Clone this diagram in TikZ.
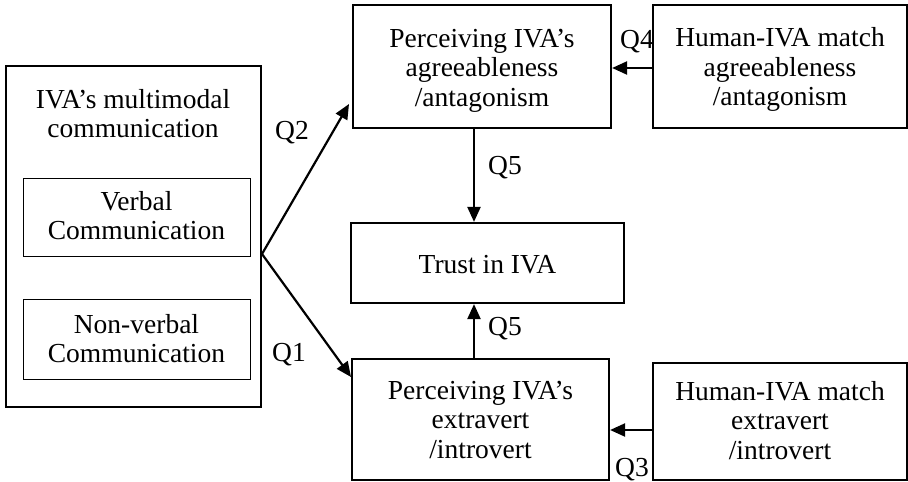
\documentclass[tikz,border=0pt]{standalone}
\usepackage{fontspec}
\setmainfont{Liberation Serif}
\usetikzlibrary{arrows.meta}
% text block whose first baseline sits #1 below the node centre
\newcommand{\mytl}[2]{\raisebox{#1}[0pt][0pt]{\begin{tabular}[t]{@{}c@{}}#2\end{tabular}}}
\begin{document}
\begin{tikzpicture}[x=1pt,y=-1pt,
  txt/.style={font=\fontsize{27.5}{29.5}\selectfont},
  box/.style={draw,line width=2.2pt,inner sep=0pt,txt},
  inbox/.style={draw,line width=1pt,inner sep=0pt,txt},
  lab/.style={inner sep=0pt,txt},
  arr/.style={line width=2.2pt,-{Triangle[length=15pt,width=13pt]}}]
\useasboundingbox (0,0) rectangle (908,482);
% left container
\node[box,minimum width=255pt,minimum height=341pt] (big) at (133.5,236.5) {};
\node[lab] (title) at (133,108) {\mytl{0pt}{IVA’s multimodal\\communication}};
\node[inbox,minimum width=227pt,minimum height=78pt] (verbal) at (136.5,217) {\mytl{7pt}{Verbal\\Communication}};
\node[inbox,minimum width=227pt,minimum height=80pt] (nonverbal) at (136.5,339) {\mytl{6pt}{Non-verbal\\Communication}};
% middle column
\node[box,minimum width=258pt,minimum height=123pt] (pa) at (482,66.5) {\mytl{19.5pt}{Perceiving IVA’s\\agreeableness\\/antagonism}};
\node[box,minimum width=273pt,minimum height=80pt] (trust) at (487.5,263) {\mytl{-10pt}{Trust in IVA}};
\node[box,minimum width=257pt,minimum height=121pt] (pe) at (480.5,419.5) {\mytl{20.5pt}{Perceiving IVA’s\\extravert\\/introvert}};
% right column
\node[box,minimum width=254pt,minimum height=123pt] (ha) at (780,66.5) {\mytl{20pt}{Human-IVA match\\agreeableness\\/antagonism}};
\node[box,minimum width=254pt,minimum height=117pt] (he) at (780,421.5) {\mytl{21.5pt}{Human-IVA match\\extravert\\/introvert}};
% connectors
\coordinate (fork) at (262,254);
\coordinate (q2end) at (349,104);
\coordinate (q1end) at (351,377);
\draw[arr] (fork) -- (q2end);
\draw[arr] (fork) -- (q1end);
\draw[arr] ([yshift=-1.5pt]ha.west) -- ([yshift=-1.5pt]ha.west -| pa.east);
\draw[arr] ([yshift=-8.5pt]he.west) -- ([yshift=-8.5pt]he.west -| pe.east);
\draw[arr] ([xshift=-8pt]pa.south) -- ([xshift=-8pt]pa.south |- trust.north);
\draw[arr] ([xshift=-6.5pt]pe.north) -- ([xshift=-6.5pt]pe.north |- trust.south);
% labels
\node[lab] (q2) at (292,133) {Q2};
\node[lab] (q1) at (289,355) {Q1};
\node[lab] (q4) at (637,42) {Q4};
\node[lab] (q3) at (632,470) {Q3};
\node[lab] (q5a) at (505,168) {Q5};
\node[lab] (q5b) at (505,329) {Q5};
\end{tikzpicture}
\end{document}
